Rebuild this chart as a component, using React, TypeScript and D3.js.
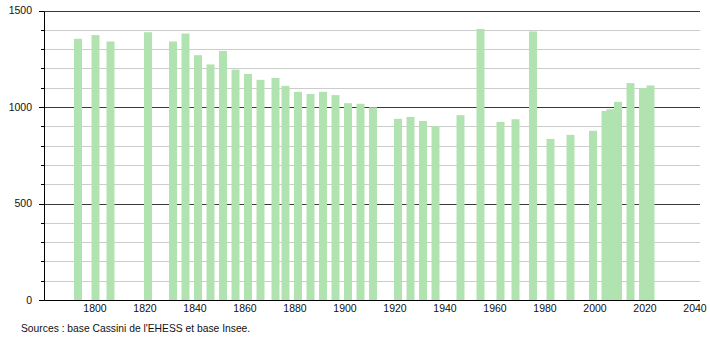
import React from "react";
import * as d3 from "d3";

const years = [1793, 1800, 1806, 1821, 1831, 1836, 1841, 1846, 1851, 1856, 1861, 1866, 1872, 1876, 1881, 1886, 1891, 1896, 1901, 1906, 1911, 1921, 1926, 1931, 1936, 1946, 1954, 1962, 1968, 1975, 1982, 1990, 1999, 2004, 2006, 2009, 2014, 2019, 2022];
const population = [1354, 1373, 1340, 1388, 1340, 1381, 1269, 1221, 1291, 1194, 1172, 1141, 1151, 1110, 1079, 1068, 1079, 1062, 1020, 1017, 999, 939, 949, 928, 901, 958, 1405, 923, 937, 1392, 835, 856, 877, 980, 989, 1027, 1124, 1098, 1112];
const xTicks = [1800, 1820, 1840, 1860, 1880, 1900, 1920, 1940, 1960, 1980, 2000, 2020, 2040];
const yMajor = [0, 500, 1000, 1500];
const yMinor = [100, 200, 300, 400, 600, 700, 800, 900, 1100, 1200, 1300, 1400];
const sourceText = "Sources : base Cassini de l'EHESS et base Insee.";

export default function App() {
  const W = 710, H = 340;
  const x = d3.scaleLinear().domain([1780, 2040]).range([45, 695]);
  const y = d3.scaleLinear().domain([0, 1500]).range([300, 10.6]);
  const left = 44.5, right = 700;
  const barW = x(1783.2) - x(1780);
  const crisp = (v: number) => Math.round(v) + 0.5;
  const font = "'Liberation Sans', Arial, sans-serif";
  return (
    <svg width={W} height={H} style={{ position: "absolute", left: 0, top: 0, background: "#fff" }}>
      {yMinor.map((v) => (
        <line key={"mn" + v} x1={left} x2={right} y1={crisp(y(v))} y2={crisp(y(v))} stroke="#cccccc" strokeWidth={1} />
      ))}
      {yMajor.map((v) => (
        <line key={"mj" + v} x1={left} x2={right} y1={crisp(y(v))} y2={crisp(y(v))} stroke="#3a3a3a" strokeWidth={1} />
      ))}
      {years.map((yr, i) => (
        <rect key={yr} x={x(yr) - 3.5} y={y(population[i])} width={barW} height={y(0) - y(population[i])} fill="#b1e3b1" />
      ))}
      <line x1={left} x2={left} y1={crisp(y(1500))} y2={crisp(y(0))} stroke="#000" strokeWidth={1} />
      <line x1={left} x2={right} y1={crisp(y(0))} y2={crisp(y(0))} stroke="#000" strokeWidth={1} />
      {yMinor.map((v) => (
        <line key={"tm" + v} x1={41} x2={left} y1={crisp(y(v))} y2={crisp(y(v))} stroke="#000" strokeWidth={1} />
      ))}
      {yMajor.map((v) => (
        <g key={"tl" + v}>
          <line x1={39} x2={left} y1={crisp(y(v))} y2={crisp(y(v))} stroke="#000" strokeWidth={1} />
          <text x={32} y={y(v) + 3.8} textAnchor="end" fontFamily={font} fontSize={10.5} fill="#111">{v}</text>
        </g>
      ))}
      {xTicks.map((t) => (
        <text key={"xt" + t} x={x(t)} y={312} textAnchor="middle" fontFamily={font} fontSize={10.5} fill="#111">{t}</text>
      ))}
      <text x={21} y={332} fontFamily={font} fontSize={10.3} fill="#111">{sourceText}</text>
    </svg>
  );
}
